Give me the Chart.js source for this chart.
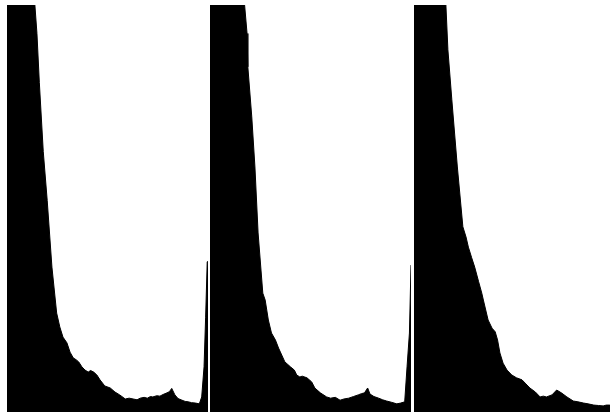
<!DOCTYPE html>
<html>
<head>
<meta charset="utf-8">
<script src="https://cdn.jsdelivr.net/npm/chart.js@4"></script>
<style>
  html, body { margin: 0; padding: 0; background: #ffffff; overflow: hidden; }
  body { width: 610px; height: 416px; position: relative; }
  .panel { position: absolute; top: 5px; width: 201px; height: 407px; }
  .panel canvas { display: block; }
</style>
</head>
<body>
<div class="panel" style="left:7px"><canvas id="c1"></canvas></div>
<div class="panel" style="left:210px"><canvas id="c2"></canvas></div>
<div class="panel" style="left:414px"><canvas id="c3"></canvas></div>
<script>
// Histogram bins (0..255) and relative counts (axis top = 100, values above are clipped)
const channel1Bins = [0, 12, 24, 35, 38, 41, 46, 51, 57, 63, 67, 71, 76, 80, 84, 88, 91, 95, 99, 103, 106, 110, 114, 118, 124, 131, 137, 143, 150, 155, 160, 165, 169, 174, 178, 182, 185, 190, 194, 198, 203, 206, 209, 213, 217, 222, 226, 230, 234, 239, 244, 247, 250, 252, 254, 255];
const channel1Values = [220, 170, 130, 101, 93, 81, 64, 52, 35.6, 24.3, 20.9, 18.4, 17.0, 14.7, 13.3, 12.8, 12.3, 11.1, 10.3, 9.8, 10.2, 9.8, 9.1, 7.9, 6.4, 5.9, 4.9, 4.2, 3.2, 3.4, 3.2, 3.0, 3.4, 3.6, 3.4, 3.8, 3.7, 4.0, 3.9, 4.3, 4.7, 5.0, 5.8, 4.2, 3.3, 2.9, 2.6, 2.5, 2.3, 2.2, 2.0, 3.7, 11.1, 23.3, 36.9, 37];

const channel2Bins = [0, 15, 30, 43, 47, 48, 53, 57, 61, 67, 70, 74, 78, 83, 87, 91, 95, 98, 102, 107, 110, 114, 117, 123, 129, 133, 140, 148, 153, 159, 165, 170, 176, 182, 188, 192, 196, 200, 203, 208, 214, 219, 224, 230, 237, 242, 247, 250, 253, 255];
const channel2Values = [230, 180, 140, 102, 93, 84.8, 72.5, 60.2, 44.0, 29.2, 27.5, 22.6, 19.4, 17.7, 15.7, 14.0, 12.3, 11.8, 11.1, 10.3, 9.1, 8.6, 8.8, 8.4, 7.4, 5.9, 4.7, 3.7, 3.4, 3.6, 2.9, 3.2, 3.4, 3.8, 4.2, 4.5, 4.7, 5.9, 4.4, 3.8, 3.4, 3.0, 2.7, 2.4, 2.0, 2.2, 2.5, 11.1, 19.4, 36.1];

const channel3Bins = [0, 15, 30, 40, 43, 48, 55, 62, 66, 69, 73, 77, 82, 86, 88, 94, 99, 103, 106, 109, 113, 118, 124, 130, 137, 141, 147, 154, 160, 164, 168, 175, 181, 187, 194, 202, 208, 215, 221, 228, 234, 240, 244, 248, 255];
const channel3Values = [210, 165, 125, 102, 89, 76.7, 60.2, 45.5, 43.0, 40.5, 38.0, 35.6, 32.0, 29.2, 27.5, 22.6, 20.6, 19.7, 17.7, 14.5, 12.0, 10.3, 9.1, 8.4, 7.9, 7.1, 5.9, 4.9, 3.7, 3.9, 3.7, 4.2, 5.4, 4.7, 3.7, 2.7, 2.5, 2.2, 2.0, 1.7, 1.6, 1.5, 1.7, 1.7, 1.6];

const yMax = 100;

function makeHistogram(id, bins, values) {
  const points = bins.map((b, i) => ({ x: b, y: values[i] }));
  new Chart(document.getElementById(id), {
    type: 'line',
    data: {
      datasets: [{
        data: points,
        fill: 'origin',
        backgroundColor: '#000000',
        borderColor: '#000000',
        borderWidth: 1,
        pointRadius: 0,
        tension: 0
      }]
    },
    options: {
      responsive: true,
      maintainAspectRatio: false,
      animation: false,
      layout: { padding: 0 },
      plugins: { legend: { display: false }, tooltip: { enabled: false } },
      scales: {
        x: { type: 'linear', min: 0, max: 255, display: false },
        y: { min: 0, max: yMax, display: false }
      }
    }
  });
}

makeHistogram('c1', channel1Bins, channel1Values);
makeHistogram('c2', channel2Bins, channel2Values);
makeHistogram('c3', channel3Bins, channel3Values);
</script>
</body>
</html>
